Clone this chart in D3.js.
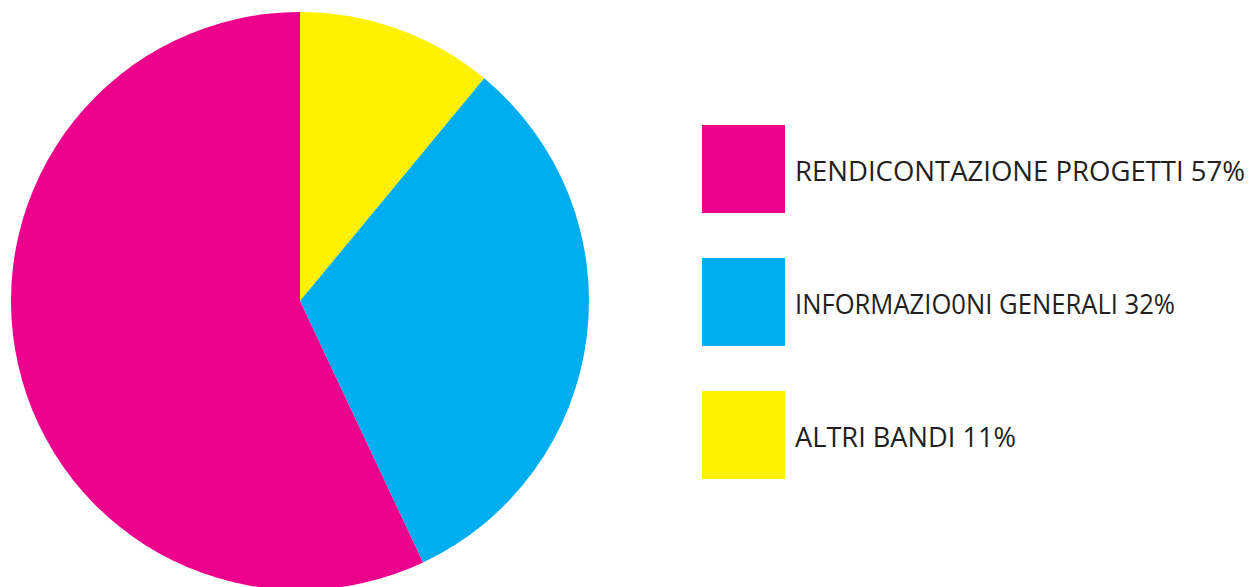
<!DOCTYPE html>
<html>
<head>
<meta charset="utf-8">
<script src="https://cdn.jsdelivr.net/npm/d3@7/dist/d3.min.js"></script>
<style>
  html, body { margin: 0; padding: 0; background: #ffffff; }
  svg { display: block; }
</style>
</head>
<body>
<svg id="chart" width="1252" height="587"></svg>
<script>
// Slice data, in clockwise order starting from 12 o'clock
const categories = ["ALTRI BANDI", "INFORMAZIO0NI GENERALI", "RENDICONTAZIONE PROGETTI"];
const values = [11, 32, 57];
const colors = ["#FFF200", "#00AEEF", "#EC008C"];

// Legend order (top to bottom)
const legendOrder = ["RENDICONTAZIONE PROGETTI", "INFORMAZIO0NI GENERALI", "ALTRI BANDI"];

const svg = d3.select("#chart");

const cx = 300, cy = 301, radius = 289;

const color = d3.scaleOrdinal().domain(categories).range(colors);

const pie = d3.pie().sort(null).value(d => d.value);
const arc = d3.arc().innerRadius(0).outerRadius(radius);

const data = categories.map((c, i) => ({ name: c, value: values[i] }));

const g = svg.append("g").attr("transform", `translate(${cx},${cy})`);
g.selectAll("path")
  .data(pie(data))
  .join("path")
  .attr("d", arc)
  .attr("fill", d => color(d.data.name));

// Legend
const legendY = d3.scalePoint().domain(legendOrder).range([125, 391]);
const boxW = 83, boxH = 88;
const legend = svg.append("g").attr("transform", "translate(702,0)");

const items = legend.selectAll("g.item")
  .data(legendOrder)
  .join("g")
  .attr("class", "item")
  .attr("transform", d => `translate(0,${legendY(d)})`);

items.append("rect")
  .attr("width", boxW)
  .attr("height", boxH)
  .attr("fill", d => color(d));

// Label widths keep the condensed look of the legend type
const widths = { "RENDICONTAZIONE PROGETTI": 450, "INFORMAZIO0NI GENERALI": 380, "ALTRI BANDI": 221 };

items.append("text")
  .attr("x", 93)
  .attr("y", boxH / 2 + 12)
  .attr("font-family", "'Open Sans', 'Noto Sans', sans-serif")
  .attr("font-size", 28)
  .attr("fill", "#231F20")
  .attr("textLength", d => widths[d])
  .attr("lengthAdjust", "spacingAndGlyphs")
  .text(d => `${d} ${values[categories.indexOf(d)]}%`);
</script>
</body>
</html>
